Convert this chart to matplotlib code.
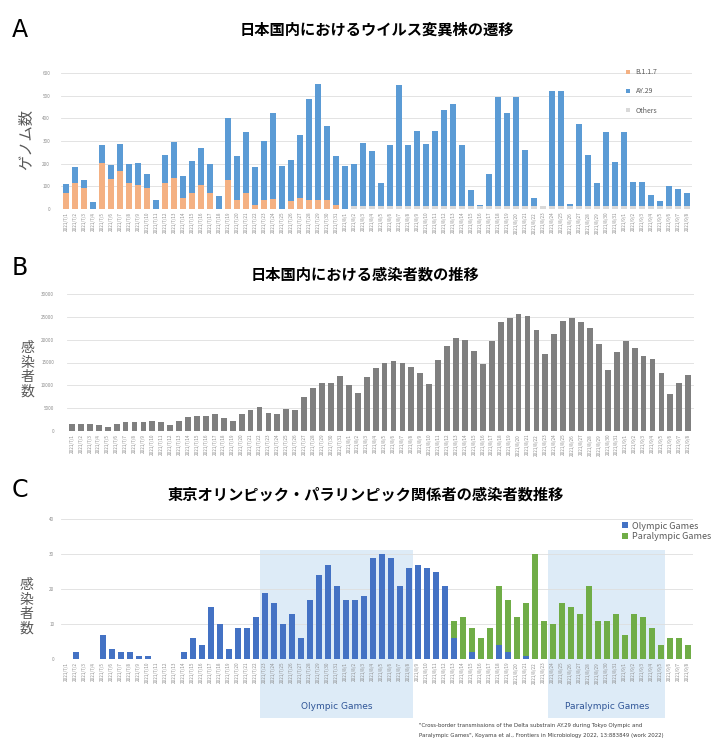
import matplotlib.pyplot as plt
import matplotlib.transforms as mtransforms
from matplotlib.patches import Rectangle
import numpy as np
import pandas as pd

plt.rcParams['font.family'] = ['Noto Sans CJK JP', 'DejaVu Sans']

# 70 days, 2021/7/1 - 2021/9/8
dates = pd.date_range('2021-07-01', periods=70)
date_labels = [f'{d.year}/{d.month}/{d.day}' for d in dates]

# A: genomes per variant
genome_total = [112, 184, 129, 29, 284, 193, 287, 199, 201, 156, 41, 238, 294, 147, 210, 269, 200, 59,
                403, 235, 341, 184, 299, 424, 191, 218, 326, 485, 553, 368, 235, 188, 200, 291, 254, 115,
                284, 549, 281, 343, 288, 343, 438, 465, 281, 85, 19, 156, 493, 424, 493, 262, 49, 15,
                522, 522, 24, 376, 237, 115, 338, 207, 340, 118, 118, 60, 37, 100, 88, 71]
b117 = [70, 115, 93, 0, 203, 132, 166, 115, 107, 93, 0, 115, 137, 48, 70, 107, 70, 0,
        129, 41, 70, 19, 41, 43, 0, 37, 48, 41, 41, 41, 19] + [0] * 39
others = [0] * 32 + [15] * 38

# B: infections in Japan
infected = [1460, 1460, 1600, 1300, 950, 1460, 2050, 2050, 2050, 2270, 1900, 1300, 2200, 3000, 3200,
            3200, 3650, 2780, 2270, 3650, 4600, 5200, 3870, 3650, 4820, 4600, 7530, 9500, 10600, 10450,
            12130, 10000, 8260, 11915, 13890, 14985, 15350, 14840, 14110, 12650, 10310, 15570, 18710,
            20320, 19960, 17620, 14690, 19740, 23760, 24710, 25660, 25220, 22150, 16810, 21270, 23980,
            24710, 23830, 22510, 19080, 13380, 17400, 19810, 18130, 16450, 15790, 12650, 8040, 10450, 12210]

# C: Olympic / Paralympic related infections
olympic = [0, 2, 0, 0, 7, 3, 2, 2, 1, 1, 0, 0, 0, 2, 6, 4, 15, 10, 3, 9, 9, 12, 19, 16, 10, 13, 6,
           17, 24, 27, 21, 17, 17, 18, 29, 30, 29, 21, 26, 27, 26, 25, 21, 6, 0, 2, 0, 0, 4, 2, 0, 1,
           0, 0, 0, 0, 0, 0, 0, 0, 0, 0, 0, 0, 0, 0, 0, 0, 0, 0]
paralympic = [0] * 43 + [5, 12, 7, 6, 9, 17, 15, 12, 15, 30, 11, 10, 16, 15, 13, 21, 11, 11, 13, 7,
                         13, 12, 9, 4, 6, 6, 4]
olympic_days = (22, 38)
paralympic_days = (54, 66)

W, H = 711, 749
fig = plt.figure(figsize=(W / 100, H / 100), dpi=100)


def px_axes(left, top, right, bottom):
    return fig.add_axes([left / W, 1 - bottom / H, (right - left) / W, (bottom - top) / H])


def style(ax, ymax, step, ypad):
    x = np.arange(len(date_labels))
    ax.set_xlim(-0.6, len(date_labels) - 0.4)
    ax.set_ylim(0, ymax)
    ax.set_yticks(range(0, ymax + 1, step))
    ax.set_xticks(x)
    ax.set_xticklabels(date_labels, rotation=90, fontsize=3.3, color='#8c8c8c')
    ax.tick_params(axis='y', length=0, labelsize=3.3, labelcolor='#8c8c8c', pad=ypad)
    ax.tick_params(axis='x', length=0, pad=2)
    ax.grid(axis='y', color='#dedede', lw=0.6)
    ax.set_axisbelow(True)
    for s in ax.spines.values():
        s.set_visible(False)


x = np.arange(len(date_labels))

# ---- A
axA = px_axes(60.6, 73, 692.4, 209)
ay29 = np.array(genome_total) - np.array(b117) - np.array(others)
axA.bar(x, b117, width=0.72, color='#F4B183', label='B.1.1.7')
axA.bar(x, ay29, width=0.72, bottom=np.array(b117) + np.array(others), color='#5B9BD5', label='AY.29')
axA.bar(x, others, width=0.72, bottom=b117, color='#D9D9D9', label='Others')
style(axA, 600, 100, 7.5)
h, l = axA.get_legend_handles_labels()
axA.legend(h, l, loc='upper left', bbox_to_anchor=(0.885, 1.08), frameon=False, fontsize=5,
           handlelength=0.6, handleheight=0.6, labelspacing=1.6, labelcolor='#595959')
fig.text(27 / W, 1 - 140 / H, 'ゲノム数', rotation=90, fontsize=11, color='#595959',
         ha='center', va='center')

# ---- B
axB = px_axes(66.6, 294, 693.6, 431)
axB.bar(x, infected, width=0.65, color='#7F7F7F')
style(axB, 30000, 5000, 9)
fig.text(27 / W, 1 - 370 / H, '感\n染\n者\n数', fontsize=10, color='#595959',
         ha='center', va='center', linespacing=1.05)

# ---- C
axC = px_axes(61.3, 519, 693.1, 659)
axC.bar(x, olympic, width=0.7, color='#4472C4', label='Olympic Games')
axC.bar(x, paralympic, width=0.7, bottom=olympic, color='#70AD47', label='Paralympic Games')
style(axC, 40, 10, 5)
fig.text(26 / W, 1 - 607 / H, '感\n染\n者\n数', fontsize=10, color='#595959',
         ha='center', va='center', linespacing=1.05)
axC.legend(loc='upper left', bbox_to_anchor=(0.875, 1.04), frameon=False, fontsize=6.5,
           handlelength=0.6, handleheight=0.6, labelspacing=0.2, handletextpad=0.5,
           labelcolor='#595959')

trans = mtransforms.blended_transform_factory(axC.transData, axC.transAxes)
for (d0, d1), name in [(olympic_days, 'Olympic Games'), (paralympic_days, 'Paralympic Games')]:
    axC.add_patch(Rectangle((d0 - 0.5, -0.42), d1 - d0 + 1, 1.2, transform=trans,
                            color='#DDEBF7', zorder=0, clip_on=False, lw=0))
    axC.text((d0 + d1) / 2, -0.34, name, transform=trans, ha='center', va='center',
             fontsize=6.5, color='#2F5597', family=['DejaVu Sans'])

# panel letters and titles
for letter, y in [('A', 30), ('B', 268), ('C', 490)]:
    fig.text(12 / W, 1 - y / H, letter, fontsize=17, va='center', family=['DejaVu Sans'])
fig.text(377 / W, 1 - 30 / H, '日本国内におけるウイルス変異株の遷移', ha='center', va='center',
         fontsize=11, weight='bold')
fig.text(365 / W, 1 - 275 / H, '日本国内における感染者数の推移', ha='center', va='center',
         fontsize=11, weight='bold')
fig.text(366 / W, 1 - 495 / H, '東京オリンピック・パラリンピック関係者の感染者数推移', ha='center',
         va='center', fontsize=11, weight='bold')

fig.text(419 / W, 1 - 725 / H, '"Cross-border transmissions of the Delta substrain AY.29 during Tokyo Olympic and',
         fontsize=3.9, color='#404040', va='center', family=['DejaVu Sans'])
fig.text(419 / W, 1 - 735 / H, 'Paralympic Games", Koyama et al., Frontiers in Microbiology 2022, 13:883849 (work 2022)',
         fontsize=3.9, color='#404040', va='center', family=['DejaVu Sans'])

fig.savefig('out.png', dpi=100)
